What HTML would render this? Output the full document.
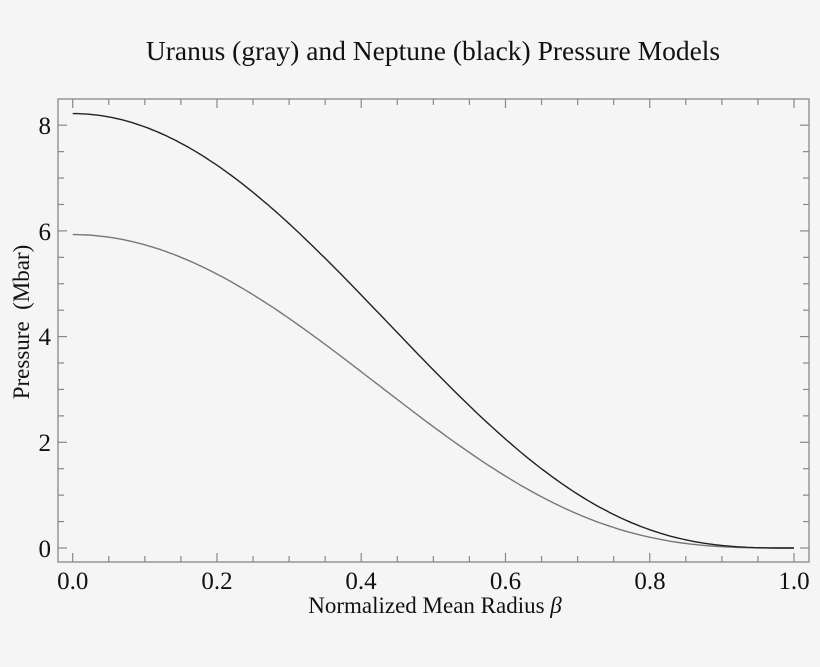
<!DOCTYPE html>
<html><head><style>
html,body{margin:0;padding:0;background:#f5f5f5;}
svg{display:block;font-family:"Liberation Serif",serif;}
</style></head><body>
<svg width="820" height="667" viewBox="0 0 820 667">
<rect width="820" height="667" fill="#f5f5f5"/>
<text x="433" y="60" font-size="27.5" text-anchor="middle" fill="#111">Uranus (gray) and Neptune (black) Pressure Models</text>
<rect x="58" y="99" width="751" height="463" fill="none" stroke="#888" stroke-width="1.3"/>
<g id="ticks" stroke="#888" stroke-width="1.2"></g>
<g font-size="25" fill="#111">
<text x="72.7" y="589" text-anchor="middle">0.0</text>
<text x="217" y="589" text-anchor="middle">0.2</text>
<text x="361" y="589" text-anchor="middle">0.4</text>
<text x="505.5" y="589" text-anchor="middle">0.6</text>
<text x="650" y="589" text-anchor="middle">0.8</text>
<text x="794" y="589" text-anchor="middle">1.0</text>
<text x="51" y="557" text-anchor="end">0</text>
<text x="51" y="451" text-anchor="end">2</text>
<text x="51" y="345" text-anchor="end">4</text>
<text x="51" y="240" text-anchor="end">6</text>
<text x="51" y="134" text-anchor="end">8</text>
</g>
<text x="435" y="613" font-size="23" text-anchor="middle" fill="#111">Normalized Mean Radius <tspan font-style="italic">β</tspan></text>
<text transform="translate(29,322) rotate(-90)" font-size="23" text-anchor="middle" fill="#111" xml:space="preserve">Pressure  (Mbar)</text>
<polyline id="u" fill="none" stroke="#777" stroke-width="1.4"/>
<polyline id="n" fill="none" stroke="#222" stroke-width="1.4"/>
</svg>
<script>
var X=b=>72.7+b*721.3, Y=p=>548-p*52.85;
var t='';
for(var i=0;i<=20;i++){var x=X(i*0.05),l=i%4==0?9:6;t+='<line x1="'+x+'" y1="562" x2="'+x+'" y2="'+(562-l)+'"/><line x1="'+x+'" y1="99" x2="'+x+'" y2="'+(99+l)+'"/>';}
for(var j=0;j<=16;j++){var y=Y(j*0.5),l=j%4==0?9:6;if(y<99)continue;t+='<line x1="58" y1="'+y+'" x2="'+(58+l)+'" y2="'+y+'"/><line x1="809" y1="'+y+'" x2="'+(809-l)+'" y2="'+y+'"/>';}
document.getElementById('ticks').innerHTML=t;
function pts(P0,n){var s='';for(var i=0;i<=200;i++){var b=i/200;s+=X(b).toFixed(1)+','+Y(P0*Math.pow(1-b*b,n)).toFixed(1)+' ';}return s;}
document.getElementById('u').setAttribute('points',pts(5.93,3.3));
document.getElementById('n').setAttribute('points',pts(8.22,3.1));
</script>
</body></html>
